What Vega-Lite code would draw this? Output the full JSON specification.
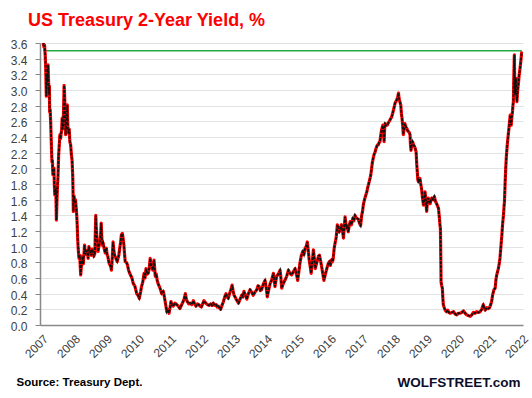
{
  "$schema": "https://vega.github.io/schema/vega-lite/v6.json",
  "width": 483,
  "height": 282,
  "autosize": {"type": "none"},
  "padding": {"left": 40, "top": 43, "right": 9, "bottom": 73},
  "background": "white",
  "title": {"text": "US Treasury 2-Year Yield, %", "color": "#ff0000", "font": "Liberation Sans", "fontSize": 18, "fontWeight": "bold", "anchor": "start", "frame": "group", "dx": -12, "offset": 9},
  "config": {"view": {"stroke": null}},
  "data": {"values": [
    {"year":2007.74,"value":3.6},{"year":2007.76,"value":3.55},{"year":2007.78,"value":3.57},{"year":2007.80,"value":3.45},{"year":2007.815,"value":3.3},{"year":2007.825,"value":3.1},{"year":2007.835,"value":2.92},{"year":2007.846,"value":3.05},{"year":2007.856,"value":3.2},{"year":2007.87,"value":3.1},{"year":2007.89,"value":3.32},{"year":2007.905,"value":3.1},{"year":2007.92,"value":2.95},{"year":2007.93,"value":3.05},{"year":2007.94,"value":2.72},{"year":2007.955,"value":2.75},{"year":2007.97,"value":2.6},{"year":2007.99,"value":2.34},
    {"year":2008.01,"value":2.08},{"year":2008.025,"value":2.1},{"year":2008.04,"value":1.92},{"year":2008.055,"value":1.98},{"year":2008.075,"value":2.0},{"year":2008.085,"value":1.8},{"year":2008.10,"value":1.66},{"year":2008.115,"value":1.7},{"year":2008.13,"value":1.75},{"year":2008.14,"value":1.55},{"year":2008.15,"value":1.34},{"year":2008.165,"value":1.55},{"year":2008.18,"value":1.74},{"year":2008.20,"value":1.9},{"year":2008.22,"value":2.17},{"year":2008.24,"value":2.3},{"year":2008.26,"value":2.43},{"year":2008.28,"value":2.38},{"year":2008.30,"value":2.45},{"year":2008.315,"value":2.5},{"year":2008.33,"value":2.64},{"year":2008.345,"value":2.5},{"year":2008.36,"value":2.55},{"year":2008.375,"value":2.75},{"year":2008.39,"value":3.06},{"year":2008.40,"value":3.0},{"year":2008.41,"value":2.89},{"year":2008.425,"value":2.6},{"year":2008.44,"value":2.43},{"year":2008.455,"value":2.55},{"year":2008.47,"value":2.6},{"year":2008.49,"value":2.81},{"year":2008.50,"value":2.65},{"year":2008.51,"value":2.51},{"year":2008.53,"value":2.45},{"year":2008.55,"value":2.5},{"year":2008.57,"value":2.34},{"year":2008.595,"value":2.3},{"year":2008.62,"value":2.17},{"year":2008.64,"value":2.1},{"year":2008.66,"value":1.9},{"year":2008.67,"value":1.7},{"year":2008.68,"value":1.45},{"year":2008.70,"value":1.65},{"year":2008.72,"value":1.57},{"year":2008.745,"value":1.6},{"year":2008.77,"value":1.49},{"year":2008.785,"value":1.4},{"year":2008.80,"value":1.28},{"year":2008.815,"value":1.1},{"year":2008.83,"value":0.98},{"year":2008.855,"value":0.85},{"year":2008.88,"value":0.89},{"year":2008.895,"value":0.75},{"year":2008.91,"value":0.64},{"year":2008.93,"value":0.75},{"year":2008.95,"value":0.81},{"year":2008.97,"value":0.88},{"year":2008.99,"value":0.78},
    {"year":2009.01,"value":0.9},{"year":2009.03,"value":1.02},{"year":2009.06,"value":0.9},{"year":2009.09,"value":0.94},{"year":2009.115,"value":0.95},{"year":2009.14,"value":0.85},{"year":2009.165,"value":1.0},{"year":2009.19,"value":0.96},{"year":2009.215,"value":0.92},{"year":2009.24,"value":0.89},{"year":2009.265,"value":0.97},{"year":2009.29,"value":0.94},{"year":2009.32,"value":0.88},{"year":2009.35,"value":0.91},{"year":2009.365,"value":1.15},{"year":2009.38,"value":1.40},{"year":2009.395,"value":1.25},{"year":2009.41,"value":1.15},{"year":2009.43,"value":1.05},{"year":2009.45,"value":0.94},{"year":2009.475,"value":1.0},{"year":2009.50,"value":1.06},{"year":2009.525,"value":1.1},{"year":2009.55,"value":1.30},{"year":2009.565,"value":1.15},{"year":2009.58,"value":1.02},{"year":2009.61,"value":1.05},{"year":2009.64,"value":0.98},{"year":2009.675,"value":0.92},{"year":2009.71,"value":0.98},{"year":2009.735,"value":0.9},{"year":2009.76,"value":0.87},{"year":2009.79,"value":0.8},{"year":2009.82,"value":0.77},{"year":2009.845,"value":0.75},{"year":2009.87,"value":0.70},{"year":2009.895,"value":0.85},{"year":2009.92,"value":1.06},{"year":2009.945,"value":0.95},{"year":2009.97,"value":0.89},
    {"year":2010.01,"value":0.85},{"year":2010.05,"value":0.81},{"year":2010.075,"value":0.85},{"year":2010.10,"value":0.89},{"year":2010.13,"value":0.98},{"year":2010.155,"value":1.05},{"year":2010.18,"value":1.15},{"year":2010.21,"value":1.17},{"year":2010.235,"value":1.1},{"year":2010.26,"value":1.02},{"year":2010.28,"value":0.9},{"year":2010.30,"value":0.81},{"year":2010.335,"value":0.8},{"year":2010.37,"value":0.77},{"year":2010.405,"value":0.7},{"year":2010.44,"value":0.66},{"year":2010.51,"value":0.60},{"year":2010.55,"value":0.53},{"year":2010.60,"value":0.5},{"year":2010.66,"value":0.40},{"year":2010.70,"value":0.38},{"year":2010.74,"value":0.34},{"year":2010.78,"value":0.42},{"year":2010.81,"value":0.49},{"year":2010.85,"value":0.55},{"year":2010.89,"value":0.66},{"year":2010.92,"value":0.6},{"year":2010.95,"value":0.72},{"year":2010.985,"value":0.65},
    {"year":2011.02,"value":0.66},{"year":2011.05,"value":0.72},{"year":2011.08,"value":0.85},{"year":2011.105,"value":0.78},{"year":2011.13,"value":0.74},{"year":2011.165,"value":0.7},{"year":2011.20,"value":0.83},{"year":2011.24,"value":0.62},{"year":2011.27,"value":0.65},{"year":2011.30,"value":0.57},{"year":2011.335,"value":0.52},{"year":2011.37,"value":0.49},{"year":2011.405,"value":0.45},{"year":2011.44,"value":0.40},{"year":2011.49,"value":0.43},{"year":2011.515,"value":0.38},{"year":2011.54,"value":0.32},{"year":2011.57,"value":0.25},{"year":2011.60,"value":0.17},{"year":2011.635,"value":0.2},{"year":2011.67,"value":0.15},{"year":2011.70,"value":0.22},{"year":2011.73,"value":0.30},{"year":2011.765,"value":0.25},{"year":2011.80,"value":0.24},{"year":2011.855,"value":0.28},{"year":2011.91,"value":0.26},{"year":2011.96,"value":0.24},
    {"year":2012.01,"value":0.21},{"year":2012.055,"value":0.25},{"year":2012.10,"value":0.29},{"year":2012.14,"value":0.33},{"year":2012.18,"value":0.40},{"year":2012.21,"value":0.33},{"year":2012.24,"value":0.30},{"year":2012.285,"value":0.27},{"year":2012.33,"value":0.28},{"year":2012.38,"value":0.26},{"year":2012.43,"value":0.31},{"year":2012.47,"value":0.27},{"year":2012.51,"value":0.24},{"year":2012.555,"value":0.27},{"year":2012.60,"value":0.26},{"year":2012.64,"value":0.24},{"year":2012.68,"value":0.23},{"year":2012.72,"value":0.27},{"year":2012.76,"value":0.31},{"year":2012.815,"value":0.28},{"year":2012.87,"value":0.26},{"year":2012.92,"value":0.25},{"year":2012.97,"value":0.27},
    {"year":2013.01,"value":0.25},{"year":2013.05,"value":0.28},{"year":2013.095,"value":0.25},{"year":2013.14,"value":0.26},{"year":2013.175,"value":0.23},{"year":2013.21,"value":0.24},{"year":2013.245,"value":0.22},{"year":2013.28,"value":0.20},{"year":2013.325,"value":0.25},{"year":2013.37,"value":0.30},{"year":2013.41,"value":0.36},{"year":2013.45,"value":0.40},{"year":2013.485,"value":0.36},{"year":2013.52,"value":0.34},{"year":2013.56,"value":0.4},{"year":2013.60,"value":0.45},{"year":2013.64,"value":0.51},{"year":2013.67,"value":0.44},{"year":2013.70,"value":0.38},{"year":2013.73,"value":0.36},{"year":2013.78,"value":0.32},{"year":2013.84,"value":0.28},{"year":2013.89,"value":0.33},{"year":2013.94,"value":0.38},{"year":2013.975,"value":0.36},
    {"year":2014.01,"value":0.43},{"year":2014.055,"value":0.38},{"year":2014.10,"value":0.33},{"year":2014.15,"value":0.4},{"year":2014.20,"value":0.45},{"year":2014.25,"value":0.42},{"year":2014.30,"value":0.38},{"year":2014.355,"value":0.42},{"year":2014.41,"value":0.45},{"year":2014.45,"value":0.5},{"year":2014.49,"value":0.49},{"year":2014.525,"value":0.44},{"year":2014.56,"value":0.45},{"year":2014.615,"value":0.52},{"year":2014.67,"value":0.57},{"year":2014.705,"value":0.48},{"year":2014.74,"value":0.36},{"year":2014.785,"value":0.45},{"year":2014.83,"value":0.53},{"year":2014.88,"value":0.58},{"year":2014.93,"value":0.66},{"year":2014.98,"value":0.49},
    {"year":2015.03,"value":0.62},{"year":2015.085,"value":0.65},{"year":2015.14,"value":0.70},{"year":2015.165,"value":0.6},{"year":2015.19,"value":0.47},{"year":2015.24,"value":0.53},{"year":2015.29,"value":0.57},{"year":2015.345,"value":0.62},{"year":2015.40,"value":0.70},{"year":2015.45,"value":0.66},{"year":2015.50,"value":0.64},{"year":2015.555,"value":0.68},{"year":2015.61,"value":0.72},{"year":2015.65,"value":0.65},{"year":2015.69,"value":0.57},{"year":2015.725,"value":0.68},{"year":2015.76,"value":0.79},{"year":2015.80,"value":0.88},{"year":2015.85,"value":0.94},{"year":2015.885,"value":0.9},{"year":2015.92,"value":0.98},{"year":2015.955,"value":1.0},{"year":2015.99,"value":1.06},
    {"year":2016.02,"value":0.95},{"year":2016.05,"value":0.83},{"year":2016.08,"value":0.75},{"year":2016.11,"value":0.66},{"year":2016.145,"value":0.8},{"year":2016.18,"value":0.96},{"year":2016.21,"value":0.85},{"year":2016.24,"value":0.72},{"year":2016.275,"value":0.78},{"year":2016.31,"value":0.83},{"year":2016.34,"value":0.88},{"year":2016.37,"value":0.89},{"year":2016.405,"value":0.82},{"year":2016.44,"value":0.74},{"year":2016.475,"value":0.65},{"year":2016.51,"value":0.57},{"year":2016.555,"value":0.65},{"year":2016.60,"value":0.72},{"year":2016.64,"value":0.78},{"year":2016.68,"value":0.81},{"year":2016.71,"value":0.76},{"year":2016.75,"value":0.83},{"year":2016.78,"value":0.81},{"year":2016.80,"value":0.85},{"year":2016.83,"value":0.98},{"year":2016.86,"value":1.05},{"year":2016.89,"value":1.11},{"year":2016.93,"value":1.28},{"year":2016.96,"value":1.25},{"year":2016.99,"value":1.19},
    {"year":2017.025,"value":1.22},{"year":2017.06,"value":1.28},{"year":2017.09,"value":1.2},{"year":2017.12,"value":1.11},{"year":2017.145,"value":1.25},{"year":2017.17,"value":1.38},{"year":2017.195,"value":1.3},{"year":2017.22,"value":1.23},{"year":2017.245,"value":1.27},{"year":2017.27,"value":1.19},{"year":2017.30,"value":1.27},{"year":2017.33,"value":1.32},{"year":2017.37,"value":1.28},{"year":2017.41,"value":1.36},{"year":2017.445,"value":1.33},{"year":2017.48,"value":1.40},{"year":2017.515,"value":1.37},{"year":2017.55,"value":1.36},{"year":2017.585,"value":1.35},{"year":2017.62,"value":1.30},{"year":2017.655,"value":1.27},{"year":2017.69,"value":1.40},{"year":2017.715,"value":1.45},{"year":2017.74,"value":1.53},{"year":2017.765,"value":1.58},{"year":2017.79,"value":1.62},{"year":2017.82,"value":1.66},{"year":2017.85,"value":1.70},{"year":2017.875,"value":1.75},{"year":2017.90,"value":1.79},{"year":2017.925,"value":1.83},{"year":2017.95,"value":1.87},{"year":2017.975,"value":1.92},
    {"year":2018.00,"value":2.00},{"year":2018.025,"value":2.08},{"year":2018.05,"value":2.13},{"year":2018.08,"value":2.18},{"year":2018.11,"value":2.21},{"year":2018.135,"value":2.25},{"year":2018.16,"value":2.28},{"year":2018.185,"value":2.3},{"year":2018.21,"value":2.30},{"year":2018.235,"value":2.33},{"year":2018.26,"value":2.34},{"year":2018.285,"value":2.42},{"year":2018.31,"value":2.49},{"year":2018.33,"value":2.52},{"year":2018.35,"value":2.55},{"year":2018.37,"value":2.45},{"year":2018.39,"value":2.34},{"year":2018.405,"value":2.5},{"year":2018.42,"value":2.57},{"year":2018.455,"value":2.55},{"year":2018.49,"value":2.55},{"year":2018.52,"value":2.58},{"year":2018.55,"value":2.60},{"year":2018.59,"value":2.63},{"year":2018.63,"value":2.66},{"year":2018.655,"value":2.7},{"year":2018.68,"value":2.74},{"year":2018.705,"value":2.78},{"year":2018.73,"value":2.83},{"year":2018.755,"value":2.85},{"year":2018.78,"value":2.87},{"year":2018.81,"value":2.9},{"year":2018.84,"value":2.96},{"year":2018.855,"value":2.9},{"year":2018.87,"value":2.87},{"year":2018.89,"value":2.84},{"year":2018.91,"value":2.81},{"year":2018.93,"value":2.7},{"year":2018.95,"value":2.64},{"year":2018.97,"value":2.55},{"year":2018.99,"value":2.43},
    {"year":2019.015,"value":2.5},{"year":2019.04,"value":2.57},{"year":2019.07,"value":2.53},{"year":2019.10,"value":2.51},{"year":2019.125,"value":2.48},{"year":2019.15,"value":2.47},{"year":2019.175,"value":2.46},{"year":2019.20,"value":2.43},{"year":2019.215,"value":2.3},{"year":2019.23,"value":2.23},{"year":2019.255,"value":2.3},{"year":2019.28,"value":2.34},{"year":2019.31,"value":2.3},{"year":2019.34,"value":2.28},{"year":2019.365,"value":2.25},{"year":2019.39,"value":2.21},{"year":2019.41,"value":2.05},{"year":2019.43,"value":1.94},{"year":2019.445,"value":1.85},{"year":2019.46,"value":1.83},{"year":2019.485,"value":1.85},{"year":2019.51,"value":1.87},{"year":2019.535,"value":1.8},{"year":2019.56,"value":1.74},{"year":2019.59,"value":1.62},{"year":2019.62,"value":1.53},{"year":2019.645,"value":1.6},{"year":2019.67,"value":1.70},{"year":2019.695,"value":1.58},{"year":2019.72,"value":1.45},{"year":2019.745,"value":1.58},{"year":2019.77,"value":1.62},{"year":2019.80,"value":1.57},{"year":2019.83,"value":1.55},{"year":2019.855,"value":1.6},{"year":2019.88,"value":1.62},{"year":2019.92,"value":1.6},{"year":2019.96,"value":1.64},{"year":2019.995,"value":1.58},
    {"year":2020.03,"value":1.55},{"year":2020.06,"value":1.52},{"year":2020.09,"value":1.49},{"year":2020.105,"value":1.42},{"year":2020.12,"value":1.36},{"year":2020.135,"value":1.28},{"year":2020.15,"value":1.23},{"year":2020.16,"value":0.9},{"year":2020.17,"value":0.55},{"year":2020.19,"value":0.5},{"year":2020.21,"value":0.47},{"year":2020.225,"value":0.35},{"year":2020.24,"value":0.26},{"year":2020.27,"value":0.22},{"year":2020.30,"value":0.19},{"year":2020.34,"value":0.17},{"year":2020.38,"value":0.19},{"year":2020.415,"value":0.16},{"year":2020.45,"value":0.15},{"year":2020.505,"value":0.16},{"year":2020.56,"value":0.17},{"year":2020.61,"value":0.14},{"year":2020.66,"value":0.13},{"year":2020.71,"value":0.15},{"year":2020.76,"value":0.15},{"year":2020.815,"value":0.16},{"year":2020.87,"value":0.18},{"year":2020.92,"value":0.15},{"year":2020.97,"value":0.13},
    {"year":2021.025,"value":0.12},{"year":2021.08,"value":0.11},{"year":2021.13,"value":0.13},{"year":2021.18,"value":0.16},{"year":2021.23,"value":0.15},{"year":2021.28,"value":0.17},{"year":2021.335,"value":0.16},{"year":2021.39,"value":0.17},{"year":2021.44,"value":0.2},{"year":2021.49,"value":0.26},{"year":2021.52,"value":0.22},{"year":2021.55,"value":0.19},{"year":2021.60,"value":0.22},{"year":2021.65,"value":0.21},{"year":2021.685,"value":0.22},{"year":2021.72,"value":0.26},{"year":2021.75,"value":0.3},{"year":2021.78,"value":0.38},{"year":2021.82,"value":0.45},{"year":2021.86,"value":0.47},{"year":2021.885,"value":0.58},{"year":2021.91,"value":0.64},{"year":2021.935,"value":0.68},{"year":2021.96,"value":0.72},{"year":2021.985,"value":0.78},
    {"year":2022.01,"value":0.85},{"year":2022.04,"value":1.0},{"year":2022.07,"value":1.15},{"year":2022.095,"value":1.3},{"year":2022.12,"value":1.40},{"year":2022.135,"value":1.5},{"year":2022.15,"value":1.57},{"year":2022.17,"value":1.8},{"year":2022.19,"value":2.00},{"year":2022.21,"value":2.15},{"year":2022.23,"value":2.26},{"year":2022.25,"value":2.35},{"year":2022.27,"value":2.43},{"year":2022.30,"value":2.55},{"year":2022.33,"value":2.68},{"year":2022.345,"value":2.6},{"year":2022.36,"value":2.55},{"year":2022.38,"value":2.65},{"year":2022.40,"value":2.72},{"year":2022.415,"value":2.8},{"year":2022.43,"value":2.85},{"year":2022.445,"value":3.2},{"year":2022.46,"value":3.45},{"year":2022.47,"value":3.1},{"year":2022.48,"value":2.94},{"year":2022.495,"value":3.05},{"year":2022.51,"value":3.15},{"year":2022.525,"value":3.0},{"year":2022.54,"value":2.85},{"year":2022.555,"value":2.95},{"year":2022.57,"value":3.02},{"year":2022.59,"value":3.1},{"year":2022.61,"value":3.19},{"year":2022.63,"value":3.25},{"year":2022.65,"value":3.32},{"year":2022.67,"value":3.4},{"year":2022.69,"value":3.49}
  ]},
  "encoding": {
    "x": {"field": "year", "type": "quantitative",
      "scale": {"domain": [2007.6375, 2022.73], "nice": false, "zero": false},
      "axis": {"values": [2007.7,2008.7,2009.7,2010.7,2011.7,2012.7,2013.7,2014.7,2015.7,2016.7,2017.7,2018.7,2019.7,2020.7,2021.7,2022.7],
        "labelExpr": "'' + floor(datum.value)", "labelAngle": -45, "labelAlign": "right", "labelBaseline": "top",
        "labelFont": "Liberation Sans", "labelFontSize": 12, "labelColor": "#404040", "labelPadding": 8, "labelOverlap": false,
        "ticks": false, "grid": false, "domainColor": "#898989", "domainWidth": 1.5,
        "title": "Source: Treasury Dept.", "titleFont": "Liberation Sans", "titleFontSize": 11.5, "titleFontWeight": "bold", "titleColor": "#000000",
        "titleAnchor": "start", "titleAlign": "left", "titleBaseline": "alphabetic", "titleX": -24, "titleY": 60}},
    "y": {"field": "value", "type": "quantitative",
      "scale": {"domain": [0, 3.6], "nice": false},
      "axis": {"values": [0,0.2,0.4,0.6,0.8,1.0,1.2,1.4,1.6,1.8,2.0,2.2,2.4,2.6,2.8,3.0,3.2,3.4,3.6],
        "format": ".1f", "labelFont": "Liberation Sans", "labelFontSize": 12, "labelColor": "#404040", "labelPadding": 8, "labelOffset": 1.5,
        "tickSize": 5, "tickColor": "#898989", "domainColor": "#898989", "domainWidth": 1.5,
        "grid": true, "gridColor": "#e2e2e2", "gridWidth": 1.2,
        "title": "WOLFSTREET.com", "titleAngle": 0, "titleAlign": "right", "titleBaseline": "alphabetic",
        "titleX": 480, "titleY": 343, "titleFont": "Liberation Sans", "titleFontSize": 13.5, "titleFontWeight": "bold", "titleColor": "#0d0d2b"}}
  },
  "layer": [
    {"data": {"values": [{"year": 2007.74, "year2": 2022.69, "value": 3.5}]},
     "mark": {"type": "rule", "color": "#22aa44", "strokeWidth": 1.5},
     "encoding": {"x2": {"field": "year2"}}},
    {"mark": {"type": "line", "color": "#ff0000", "strokeWidth": 3.2, "clip": true, "strokeJoin": "round"}},
    {"mark": {"type": "line", "color": "#111111", "strokeWidth": 1.8, "strokeDash": [3, 1.2], "clip": true}}
  ]
}
